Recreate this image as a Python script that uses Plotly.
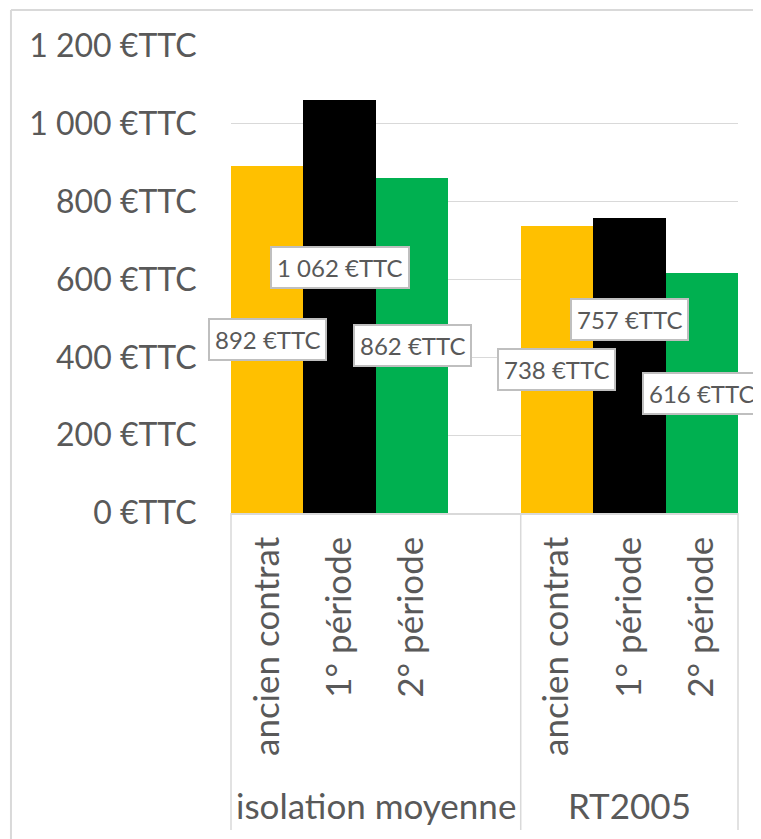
import plotly.graph_objects as go

# ---- data ----
group_labels = ["isolation moyenne", "RT2005"]
group_sizes = [4, 3]  # slots per group (first group has a blank slot)
sub_labels = ["ancien contrat", "1° période", "2° période", "",
              "ancien contrat", "1° période", "2° période"]
values = [892, 1062, 862, None, 738, 757, 616]
bar_colors = ["#FFC000", "#000000", "#00B050", "#FFFFFF",
              "#FFC000", "#000000", "#00B050"]
label_texts = ["892 €TTC", "1 062 €TTC", "862 €TTC", "",
               "738 €TTC", "757 €TTC", "616 €TTC"]
label_shift = [0, 100, 0, 0, 0, 120, 0]  # manual label moves (data units)
y_ticks = [0, 200, 400, 600, 800, 1000, 1200]
y_tick_text = ["0 €TTC", "200 €TTC", "400 €TTC", "600 €TTC",
               "800 €TTC", "1 000 €TTC", "1 200 €TTC"]

FONT = "Lato"
GREY_TXT = "#595959"
GRID = "#D9D9D9"

n = len(values)
pos = list(range(n))

fig = go.Figure()
fig.add_trace(go.Bar(
    x=pos, y=values, width=1,
    marker=dict(color=bar_colors, line=dict(width=0)),
    hoverinfo="skip", showlegend=False,
))

# data labels
for p, v, t, s in zip(pos, values, label_texts, label_shift):
    if v is None:
        continue
    fig.add_annotation(
        x=p, y=v / 2 + s, xref="x", yref="y", text=t, showarrow=False,
        font=dict(family=FONT, size=24, color=GREY_TXT),
        bgcolor="white", bordercolor="#BFBFBF", borderwidth=2, borderpad=5,
        xanchor="center", yanchor="middle",
    )

# group labels and dividers
plot_bottom_ext = -0.679
start = 0
edges = [0.0]
for g, size in zip(group_labels, group_sizes):
    center = (start + size / 2) / n
    fig.add_annotation(
        x=center, y=-0.625, xref="paper", yref="paper", text=g,
        showarrow=False, font=dict(family=FONT, size=35, color=GREY_TXT),
        xanchor="center", yanchor="middle",
    )
    start += size
    edges.append(start / n)
for e in edges:
    fig.add_shape(type="line", xref="paper", yref="paper",
                  x0=e, x1=e, y0=0, y1=plot_bottom_ext,
                  line=dict(color=GRID, width=1.5))

# outer chart frame (top & left)
fig.add_shape(type="line", xref="paper", yref="paper",
              x0=-0.434, x1=1.2, y0=1.077, y1=1.077,
              line=dict(color=GRID, width=2))
fig.add_shape(type="line", xref="paper", yref="paper",
              x0=-0.434, x1=-0.434, y0=1.077, y1=-0.8,
              line=dict(color=GRID, width=2))

tick_pos = [p for p, s in zip(pos, sub_labels) if s]
tick_txt = [s for s in sub_labels if s]

fig.update_layout(
    width=753, height=831,
    margin=dict(l=223, r=23, t=38, b=326),
    paper_bgcolor="white", plot_bgcolor="white",
    bargap=0,
    font=dict(family=FONT, color=GREY_TXT),
    xaxis=dict(
        range=[-0.5, n - 0.5], tickvals=tick_pos, ticktext=tick_txt,
        tickangle=-90, ticks="outside", ticklen=8,
        tickcolor="rgba(0,0,0,0)", showgrid=False, zeroline=False,
        showline=True, linecolor=GRID, linewidth=1.5,
        tickfont=dict(family=FONT, size=35, color=GREY_TXT),
        fixedrange=True,
    ),
    yaxis=dict(
        range=[0, 1200], tickvals=y_ticks, ticktext=y_tick_text,
        ticks="outside", ticklen=27, tickcolor="rgba(0,0,0,0)",
        showgrid=True, gridcolor=GRID, gridwidth=1.2, zeroline=False,
        showline=False,
        tickfont=dict(family=FONT, size=32, color=GREY_TXT),
        fixedrange=True,
    ),
)

fig.write_html("out.html")
